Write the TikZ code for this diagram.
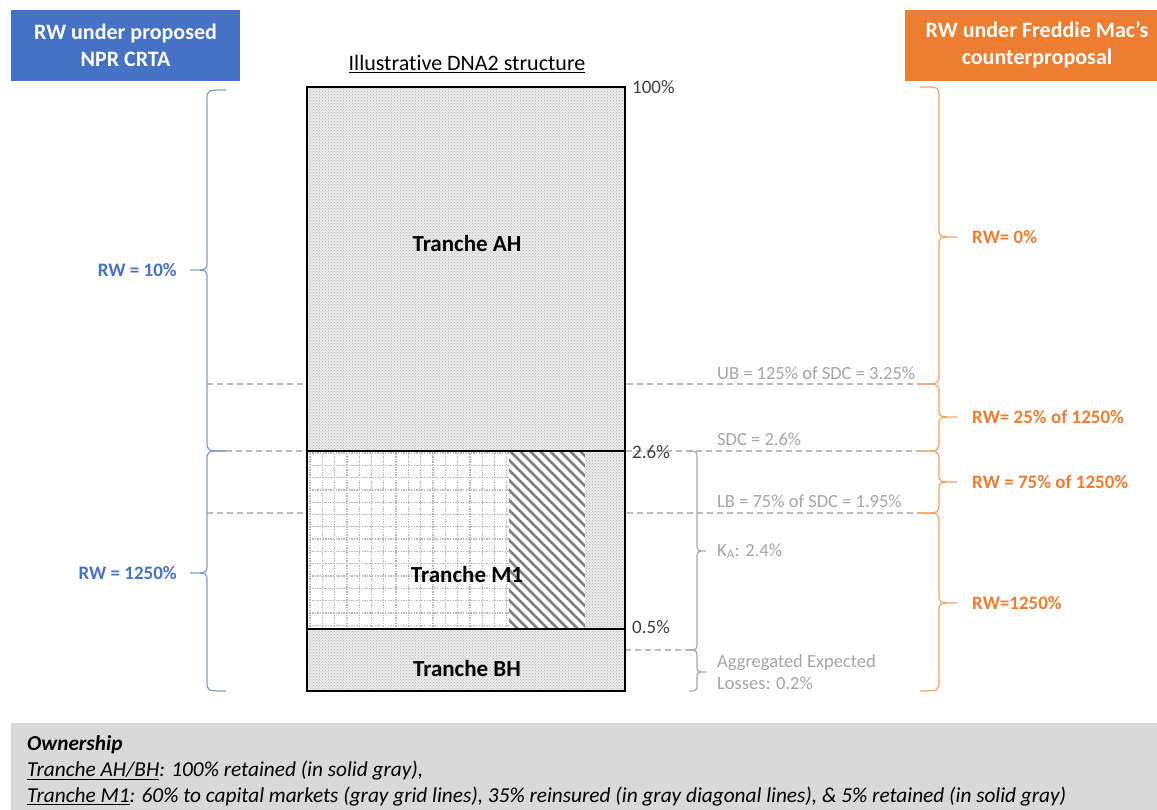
\documentclass[tikz,border=0pt]{standalone}
\usepackage{fontspec}
\setmainfont{Carlito}[Ligatures=NoCommon]
\usetikzlibrary{patterns}

\definecolor{hdblue}{HTML}{4472C4}
\definecolor{hdorange}{HTML}{ED7D31}
\definecolor{brblue}{HTML}{7F9CCB}
\definecolor{brorange}{HTML}{F0A36B}
\definecolor{txgray}{HTML}{A5A5A5}
\definecolor{brgray}{HTML}{A8A8A8}
\definecolor{dashgray}{HTML}{B8BEB8}
\definecolor{notefill}{HTML}{D9D9D9}
\definecolor{pctdark}{HTML}{404040}

% curly brace: #2 end x, #3 spine x, #4 tip x, #5 top y, #6 tip y, #7 bottom y
\newcommand{\drawbrace}[7][]{%
  \draw[#1] (#2,#5) .. controls (#3,#5) .. (#3,#5+10) -- (#3,#6-8)
    .. controls (#3,#6) .. (#4,#6) .. controls (#3,#6) .. (#3,#6+8)
    -- (#3,#7-10) .. controls (#3,#7) .. (#2,#7);}

\begin{document}
\begin{tikzpicture}[x=1pt,y=-1pt,
  header/.style={text=white,font=\fontsize{22}{27}\selectfont\bfseries,align=center,inner sep=0pt},
  tranche/.style={font=\fontsize{23}{27}\selectfont\bfseries,inner sep=0pt},
  pct/.style={text=pctdark,font=\fontsize{19}{22}\selectfont,anchor=west,inner sep=0pt},
  level/.style={text=txgray,font=\fontsize{18.5}{22}\selectfont,anchor=west,inner sep=0pt,align=left},
  rwblue/.style={text=hdblue,font=\fontsize{19}{22}\selectfont\bfseries,anchor=east,inner sep=0pt},
  rworange/.style={text=hdorange,font=\fontsize{19}{22}\selectfont\bfseries,anchor=west,inner sep=0pt},
  note/.style={font=\fontsize{21.3}{24}\selectfont\itshape,anchor=west,inner sep=0pt},
  dashline/.style={dashgray,line width=1.2pt,dash pattern=on 6pt off 4pt},
  solidgray/.style={preaction={fill=gray!16},pattern=crosshatch dots,pattern color=gray!60},
  gridline/.style={gray!55,line width=1.3pt,dash pattern=on 1.3pt off 1.3pt},
  hatchline/.style={gray,line width=2.6pt},
  frame/.style={black,line width=1.8pt},
  bluebrace/.style={brblue,line width=1.2pt},
  orangebrace/.style={brorange,line width=1.2pt},
  graybrace/.style={brgray,line width=1.2pt}]

\useasboundingbox (0,0) rectangle (1157,810);

% column headers
\fill[hdblue] (11,10) rectangle (240,81);
\node[header] (hleft) at (125.5,45) {RW under proposed\\NPR CRTA};
\fill[hdorange] (905,10) rectangle (1170,81);
\node[header] (hright) at (1037,45) {RW under Freddie Mac’s\\counterproposal};

% title
\node[font=\fontsize{22}{26}\selectfont,inner sep=0pt] (title) at (467,64) {\underline{Illustrative DNA2 structure}};

% threshold guide lines
\draw[dashline] (207,384) -- (920,384);
\draw[dashline] (226,451) -- (920,451);
\draw[dashline] (207,513) -- (920,513);
\draw[dashline] (625,650) -- (690,650);

% tranche AH and BH (retained)
\fill[solidgray] (307,87) rectangle (625,451);
\fill[solidgray] (307,629) rectangle (625,691);

% tranche M1: capital markets (grid), reinsured (diagonal), retained (solid)
\fill[white] (307,451) rectangle (509,629);
\begin{scope}
  \clip (307,451) rectangle (509,629);
  \foreach \i in {0,...,17} \draw[gridline] ({310+\i*12.3},451) -- ++(0,178);
  \foreach \j in {0,...,15} \draw[gridline] (307,{453+\j*12.3}) -- (509,{453+\j*12.3});
\end{scope}
\fill[white] (509,451) rectangle (585,629);
\begin{scope}
  \clip (509,451) rectangle (585,629);
  \foreach \k in {-180,-170,...,590} \draw[hatchline] (\k,451) -- ++(180,180);
\end{scope}
\fill[solidgray] (585,451) rectangle (625,629);

% outlines
\draw[frame] (307,87) rectangle (625,691);
\draw[frame] (307,451) -- (625,451);
\draw[frame] (307,629) -- (625,629);

\node[tranche] (tah) at (467,244) {Tranche AH};
\node[tranche] (tm1) at (467,575) {Tranche M1};
\node[tranche] (tbh) at (467,669) {Tranche BH};

% attachment points
\node[pct] (p100) at (632,87) {100\%};
\node[pct] (p26) at (632,452) {2.6\%};
\node[pct] (p05) at (632,627) {0.5\%};

% levels
\node[level] (ub) at (717,373) {UB = 125\% of SDC = 3.25\%};
\node[level] (sdc) at (717,439) {SDC = 2.6\%};
\node[level] (lb) at (717,501) {LB = 75\% of SDC = 1.95\%};
\node[level] (ka) at (717,551) {K\textsubscript{A}: 2.4\%};
\node[level] (ael) at (717,672) {Aggregated Expected\\Losses: 0.2\%};

\drawbrace[graybrace]{689}{697}{706}{451}{551}{650}
\drawbrace[graybrace]{689}{697}{706}{650}{672}{691}

% proposed NPR CRTA risk weights
\drawbrace[bluebrace]{226}{207}{190}{90}{270}{451}
\drawbrace[bluebrace]{226}{207}{190}{451}{573}{691}
\node[rwblue] (rw10) at (177,270) {RW = 10\%};
\node[rwblue] (rw1250) at (177,573) {RW = 1250\%};

% counterproposal risk weights
\drawbrace[orangebrace]{920}{939}{957}{87}{237}{384}
\drawbrace[orangebrace]{920}{939}{957}{384}{417}{451}
\drawbrace[orangebrace]{920}{939}{957}{451}{482}{513}
\drawbrace[orangebrace]{920}{939}{957}{513}{603}{691}
\node[rworange] (rw0) at (972,237) {RW= 0\%};
\node[rworange] (rw25) at (972,417) {RW= 25\% of 1250\%};
\node[rworange] (rw75) at (972,482) {RW = 75\% of 1250\%};
\node[rworange] (rwfull) at (972,603) {RW=1250\%};

% ownership note
\fill[notefill] (11,723) rectangle (1170,820);
\node[note,font=\fontsize{21.3}{24}\selectfont\bfseries\itshape] (own) at (27,745) {Ownership};
\node[note] (own1) at (27,771) {\underline{Tranche AH/BH}: 100\% retained (in solid gray),};
\node[note] (own2) at (27,797) {\underline{Tranche M1}: 60\% to capital markets (gray grid lines), 35\% reinsured (in gray diagonal lines), \& 5\% retained (in solid gray)};
\end{tikzpicture}
\end{document}
